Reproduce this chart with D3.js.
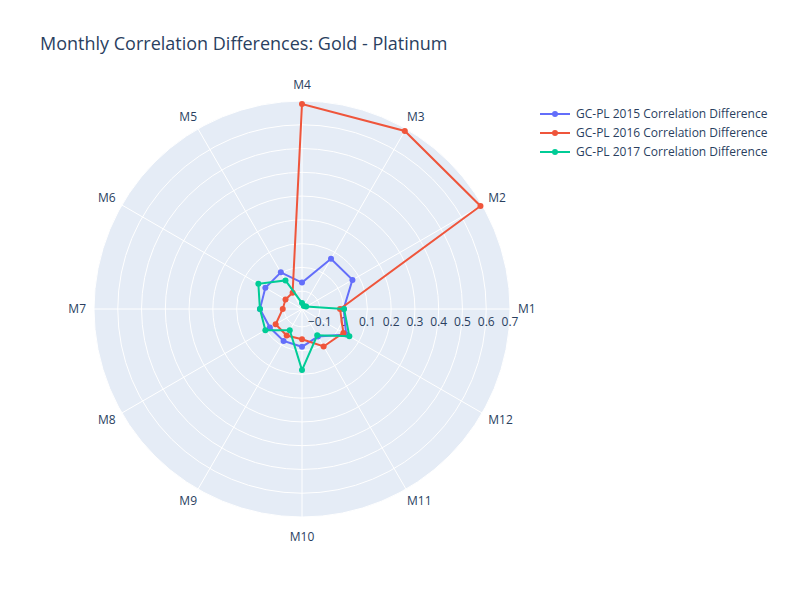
<!DOCTYPE html>
<html><head><meta charset="utf-8">
<script src="https://cdn.jsdelivr.net/npm/d3@7"></script>
<style>body{margin:0;background:#fff;font-family:"Open Sans",sans-serif;}</style>
</head><body><svg id="chart" width="800" height="600"></svg>
<script>
var months = ["M1","M2","M3","M4","M5","M6","M7","M8","M9","M10","M11","M12"];
var seriesNames = ["GC-PL 2015 Correlation Difference","GC-PL 2016 Correlation Difference","GC-PL 2017 Correlation Difference"];
var colors = ["#636efa","#EF553B","#00cc96"];
var v2015 = [0.0, 0.07, 0.069, -0.064, 0.003, 0.003, 0.002, -0.019, -0.02, -0.016, -0.041, 0.04];
var v2016 = [-0.015, 0.692, 0.69, 0.687, -0.096, -0.095, -0.094, -0.047, -0.046, -0.048, 0.007, 0.026];
var v2017 = [0.002, -0.155, -0.16, -0.15, -0.036, 0.037, 0.002, 0.003, -0.072, 0.082, -0.047, 0.055];
var radialTicks = [-0.1, 0, 0.1, 0.2, 0.3, 0.4, 0.5, 0.6, 0.7];

var svg = d3.select("#chart");
var cx = 302, cy = 309, R = 208;
var r = d3.scaleLinear().domain([-0.175, 0.7]).range([0, R]);
var ang = d3.scaleLinear().domain([0, 12]).range([0, 2 * Math.PI]);
function pt(i, v) { var a = ang(i); return [cx + r(v) * Math.cos(a), cy - r(v) * Math.sin(a)]; }

svg.append("text").attr("x", 40).attr("y", 50).attr("fill", "#2a3f5f").style("font-size", "18px")
  .text("Monthly Correlation Differences: Gold - Platinum");

var g = svg.append("g");
g.append("circle").attr("cx", cx).attr("cy", cy).attr("r", R).attr("fill", "#E5ECF6");
radialTicks.forEach(function (t) {
  g.append("circle").attr("cx", cx).attr("cy", cy).attr("r", r(t)).attr("fill", "none").attr("stroke", "#fff").attr("stroke-width", 1);
});
months.forEach(function (m, i) {
  var p = pt(i, 0.7);
  g.append("line").attr("x1", cx).attr("y1", cy).attr("x2", p[0]).attr("y2", p[1]).attr("stroke", "#fff");
  var a = ang(i), lr = R + 14;
  var lx = cx + lr * Math.cos(a), ly = cy - lr * Math.sin(a);
  var c = Math.cos(a);
  g.append("text").attr("x", lx).attr("y", ly + 4).attr("fill", "#2a3f5f").style("font-size", "12px")
    .attr("text-anchor", Math.abs(c) < 0.1 ? "middle" : (c > 0 ? "start" : "end")).text(m)
    .attr("dx", Math.abs(c) < 0.1 ? 0 : (c > 0 ? -6 : 6)).attr("dy", Math.abs(c) < 0.1 ? (Math.sin(a) > 0 ? -2 : 6) : 0);
});
radialTicks.forEach(function (t) {
  g.append("text").attr("x", cx + r(t)).attr("y", cy + 17).attr("text-anchor", "middle").attr("fill", "#2a3f5f")
    .style("font-size", "12px").text(t === 0 ? "0" : (t < 0 ? "\u2212" + Math.abs(t) : t));
});

[v2015, v2016, v2017].forEach(function (vals, k) {
  var pts = vals.map(function (v, i) { return pt(i, v); });
  pts.push(pts[0]);
  g.append("path").attr("d", d3.line()(pts)).attr("fill", "none").attr("stroke", colors[k]).attr("stroke-width", 2);
  g.selectAll(null).data(vals).enter().append("circle")
    .attr("cx", function (v, i) { return pt(i, v)[0]; }).attr("cy", function (v, i) { return pt(i, v)[1]; })
    .attr("r", 3).attr("fill", colors[k]);
});

var leg = svg.append("g").attr("transform", "translate(540,114)");
seriesNames.forEach(function (n, k) {
  var y = k * 19;
  leg.append("line").attr("x1", 0).attr("x2", 30).attr("y1", y).attr("y2", y).attr("stroke", colors[k]).attr("stroke-width", 2);
  leg.append("circle").attr("cx", 15).attr("cy", y).attr("r", 3).attr("fill", colors[k]);
  leg.append("text").attr("x", 36).attr("y", y + 4).attr("fill", "#2a3f5f").style("font-size", "12px").text(n);
});
</script></body></html>
